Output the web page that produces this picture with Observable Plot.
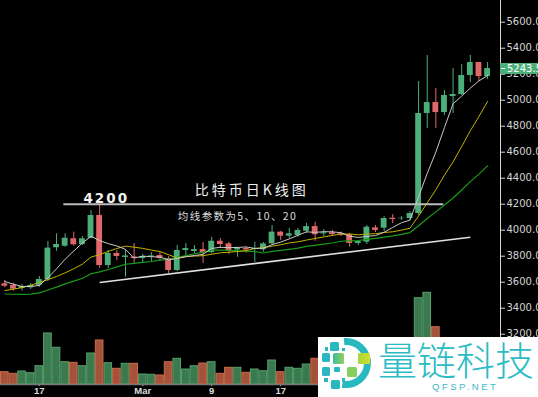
<!DOCTYPE html>
<html><head><meta charset="utf-8">
<script src="https://cdn.jsdelivr.net/npm/d3@7"></script>
<script src="https://cdn.jsdelivr.net/npm/@observablehq/plot@0.6"></script>
<style>
html,body{margin:0;padding:0;background:#000;overflow:hidden;}
#wrap{position:relative;width:538px;height:397px;background:#000;overflow:hidden;}
#wrap > svg{position:absolute;left:0;top:0;}
[aria-label^="x-axis"] text{font-family:"Liberation Sans",Arial,sans-serif;font-weight:bold;font-size:9.5px;fill:#dcdcdc;}
#plabel{position:absolute;left:500px;width:38px;height:11px;background:#4caf7a;color:#fff;font:10px "DejaVu Sans",sans-serif;line-height:11px;white-space:nowrap;overflow:hidden;}
#plabel span.t{display:inline-block;width:4px;height:1px;background:#fff;vertical-align:middle;margin:0 2px 0 1px;}
#wm{position:absolute;left:318px;top:337px;width:220px;height:60px;background:#fff;}
#wm svg{position:absolute;left:0;top:0;}
#wmText{position:absolute;left:60px;top:1px;font-family:"Noto Sans CJK SC",sans-serif;font-weight:300;font-size:39px;line-height:40px;height:40px;color:#2bbcc4;white-space:nowrap;}
#wmSub{position:absolute;left:114px;top:44px;font-family:"Liberation Sans",Arial,sans-serif;font-size:9.5px;line-height:11px;letter-spacing:2.5px;color:#3ab8c8;white-space:nowrap;}
</style>
</head><body>
<div id="wrap"></div>
<script>
// ---------- data ----------
const priorCloses = [3580,3575,3540,3440,3410,3460,3440,3450,3500,3425,3440,3450,3400,3390,3653,3650,3655,3575,3578]; // Jan 25 – Feb 12 (for moving averages only)
const opens  = [3588,3575,3551,3557,3575,3621,3865,3877,3934,3890, 3938,4113,3728,3821,3790,3794,3782,3794,3805,3782, 3690,3844,3836,3851,3828,3915,3895,3848,3859,3851, 3849,3895,3985,3954,3959,3992,4028,3972,3980,3972, 3965,3898,3908,4018,4015,4092,4088,4090,4128,4898, 4982,4905,5028,5044,5190,5290,5182];
const highs  = [3613,3592,3582,3590,3644,3913,3972,3972,3985,3952, 4151,4190,3844,3844,3844,3897,3813,3828,3828,3798, 3882,3897,3882,3905,3946,3936,3908,3869,3869,3908, 3905,4036,3990,4013,4013,4052,4062,4005,3998,3985, 3975,3921,4036,4036,4105,4120,4105,4143,5144,5344, 5090,5075,5244,5275,5344,5290,5290];
const lows   = [3557,3531,3531,3544,3559,3605,3838,3869,3877,3882, 3933,3705,3705,3767,3638,3744,3752,3751,3767,3667, 3682,3805,3821,3744,3818,3859,3813,3792,3823,3754, 3831,3890,3921,3936,3946,3975,3915,3951,3951,3951, 3869,3882,3890,3982,3990,4050,4075,4075,4113,4782, 4782,4882,4898,5036,5136,5144,5159];
const closes = [3569,3546,3567,3575,3621,3862,3890,3938,3888,3934, 4113,3728,3821,3798,3802,3782,3798,3802,3782,3690, 3844,3859,3851,3828,3915,3890,3844,3859,3848,3859, 3895,3985,3954,3972,3998,4028,3965,3980,3967,3962, 3898,3913,4023,3998,4090,4082,4092,4128,4898,4982, 4905,5036,5044,5190,5290,5182,5243.5];
const volumes = [12.3,10.7,13,11.3,18.3,51,36.7,22.3,21.7,18.3, 31,44,21.3,15.7,20.7,20.7,10,9.7,9,22.3, 25.7,15,18.3,21,22.3,10.7,16.7,16.7,11.7,15, 13.3,24,12.3,16.7,15.7,20,25.7,14,11,10, 20,14,24,15,18,12,10,20,86.3,91.7, 57.3,32,28,30,35,28,22];
const tickDates  = ["2019-02-17","2019-03-01","2019-03-09","2019-03-17"];
const tickLabels = ["17","Mar","9","17"];
const priceTicks = [3200,3400,3600,3800,4000,4200,4400,4600,4800,5000,5200,5400,5600];
const priceDomain = [2813, 5767];
const annotations = [
  {date:"2019-02-25", price:4240, label:"4200"},
  {date:"2019-03-14", price:4309, label:"比特币日K线图"},
  {date:"2019-03-12", price:4101, label:"均线参数为5、10、20"}
];
const levelLine = [{price:4200, from:"2019-02-20", to:"2019-04-05"}];
const trendLine = [{d1:"2019-02-24", p1:3598, d2:"2019-04-08", p2:3946}];

// ---------- derived tables ----------
const fmt = d3.utcFormat("%Y-%m-%d");
const allDates = d3.utcDay.range(new Date("2019-01-25"), new Date("2019-04-11")).map(fmt);
const domainDates = d3.utcDay.range(new Date("2019-02-13"), new Date("2019-04-12")).map(fmt);
const visDates = allDates.slice(priorCloses.length);
const candles = visDates.map((date, i) => ({date, o: opens[i], h: highs[i], l: lows[i], c: closes[i], v: volumes[i]}));
const maData = allDates.map((date, i) => ({date, close: i < priorCloses.length ? priorCloses[i] : closes[i - priorCloses.length]}));
const up = d => d.c >= d.o, down = d => d.c < d.o;
const GREEN = "#4caf7a", RED = "#e2676a";

const xOpts = {type:"band", domain: domainDates, padding: 0, round: false};

// ---------- volume layer ----------
const vol = Plot.plot({
  width: 538, height: 397, marginLeft: 0, marginRight: 38, marginTop: 284, marginBottom: 13,
  style: {background: "#000"},
  x: {...xOpts, axis: null},
  y: {domain: [0, 100], axis: null},
  marks: [
    Plot.barY(candles, {filter: up, x: "date", y: "v", fill: "#3a7a4e", stroke: "#55a06d", strokeWidth: 1, insetLeft: 0.5, insetRight: 0.5}),
    Plot.barY(candles, {filter: down, x: "date", y: "v", fill: "#a4523a", stroke: "#cc6b4b", strokeWidth: 1, insetLeft: 0.5, insetRight: 0.5})
  ]
});

// ---------- price layer ----------
const price = Plot.plot({
  width: 538, height: 397, marginLeft: 0, marginRight: 38, marginTop: 0, marginBottom: 13,
  style: {background: "transparent", color: "#d4d4d4", fontFamily: "DejaVu Sans, sans-serif", fontSize: "10px"},
  x: {...xOpts, ticks: tickDates, tickFormat: d => tickLabels[tickDates.indexOf(d)], tickSize: 2, tickPadding: 1, label: null},
  y: {domain: priceDomain, axis: "right", ticks: priceTicks, tickFormat: d => d.toFixed(1), tickSize: 4, tickPadding: 2, label: null, line: true},
  marks: [
    Plot.ruleY([priceDomain[0]], {stroke: "#777", strokeWidth: 1.5}),
    Plot.ruleX(candles, {filter: up, x: "date", y1: "l", y2: "h", stroke: GREEN, strokeWidth: 1}),
    Plot.ruleX(candles, {filter: down, x: "date", y1: "l", y2: "h", stroke: RED, strokeWidth: 1}),
    Plot.barY(candles, {filter: up, x: "date", y1: "o", y2: "c", fill: GREEN, insetLeft: 1.4, insetRight: 1.4}),
    Plot.barY(candles, {filter: down, x: "date", y1: "o", y2: "c", fill: RED, insetLeft: 1.4, insetRight: 1.4}),
    Plot.lineY(maData, Plot.windowY({k: 20, anchor: "end"}, {x: "date", y: "close", stroke: "#1a9c1a", strokeWidth: 1.2})),
    Plot.lineY(maData, Plot.windowY({k: 10, anchor: "end"}, {x: "date", y: "close", stroke: "#c4b200", strokeWidth: 1})),
    Plot.lineY(maData, Plot.windowY({k: 5, anchor: "end"}, {x: "date", y: "close", stroke: "#c9c9c9", strokeWidth: 1})),
    Plot.ruleY(levelLine, {y: "price", x1: "from", x2: "to", stroke: "#bdbdbd", strokeWidth: 2, insetLeft: 3, insetRight: 5}),
    Plot.link(trendLine, {x1: "d1", y1: "p1", x2: "d2", y2: "p2", stroke: "#e0e0e0", strokeWidth: 1.6}),
    Plot.text(annotations.slice(0,1), {x: "date", y: "price", text: "label", fill: "#f2f2f2", fontSize: 13.5, fontWeight: "bold", fontFamily: "DejaVu Sans", dx: -2}),
    Plot.text(annotations.slice(1,2), {x: "date", y: "price", text: "label", fill: "#eeeeee", fontSize: 14, fontFamily: "Noto Sans CJK SC", dx: -3}),
    Plot.text(annotations.slice(2,3), {x: "date", y: "price", text: "label", fill: "#dddddd", fontSize: 10.5, fontFamily: "Noto Sans CJK SC", dx: 0})
  ]
});

d3.select(price).selectAll("text").each(function() {
  const t = this.textContent;
  if (t === "4200") this.setAttribute("letter-spacing", "2");
  else if (t === "比特币日K线图") this.setAttribute("letter-spacing", "3");
  else if (t === "均线参数为5、10、20") this.setAttribute("letter-spacing", "1.4");
});

const wrap = document.getElementById("wrap");
wrap.appendChild(vol);
wrap.appendChild(price);

// current price label, positioned through the price scale
const last = closes[closes.length - 1];
const yPix = price.scale("y").apply(last);
const lab = document.createElement("div");
lab.id = "plabel";
lab.style.top = (yPix - 5.5) + "px";
lab.innerHTML = '<span class="t"></span>' + last.toFixed(1);
wrap.appendChild(lab);

// watermark
const wm = document.createElement("div");
wm.id = "wm";
wm.innerHTML = `
<svg width="60" height="60" viewBox="0 0 60 60">
  <defs>
    <linearGradient id="g1" x1="0" x2="1"><stop offset="0" stop-color="#3dbd9a"/><stop offset="1" stop-color="#8fd05a"/></linearGradient>
    <linearGradient id="g2" x1="0" x2="1"><stop offset="0" stop-color="#a6d63c"/><stop offset="1" stop-color="#d2e02c"/></linearGradient>
  </defs>
  <path d="M26.1 4.6 A21.5 21.5 0 1 1 24.3 47.2" fill="none" stroke="#27b9bd" stroke-width="7"/>
  <rect x="12" y="5" width="9" height="9" rx="1.5" fill="#2ab7c0"/>
  <rect x="7" y="10" width="3" height="4" fill="#2ab7c0"/>
  <rect x="24" y="11" width="3" height="3" fill="#2ab7c0"/>
  <rect x="4" y="16" width="8" height="9" rx="1.5" fill="#2ab7c0"/>
  <rect x="15" y="16" width="11" height="11" rx="1.5" fill="url(#g1)"/>
  <rect x="40" y="16" width="12" height="11" rx="1.5" fill="url(#g2)"/>
  <rect x="4" y="30" width="8" height="9" rx="1.5" fill="#2ab7c0"/>
  <rect x="16" y="30" width="6" height="5" rx="1" fill="#2ab7c0"/>
  <rect x="29" y="30" width="10" height="10" rx="1.5" fill="#86cf5e"/>
  <rect x="6" y="41" width="4" height="4" fill="#2ab7c0"/>
  <rect x="13" y="43" width="9" height="9" rx="1.5" fill="#2ab7c0"/>
  <rect x="24" y="41" width="3" height="4" fill="#2ab7c0"/>
</svg>
<div id="wmText">量链科技</div>
<div id="wmSub">QFSP.NET</div>`;
wrap.appendChild(wm);
</script>
</body></html>
